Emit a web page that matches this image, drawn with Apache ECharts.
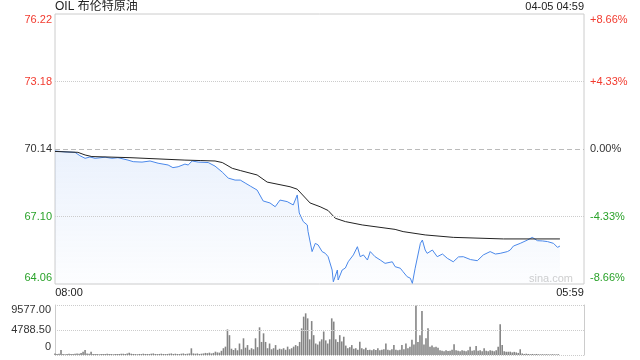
<!DOCTYPE html>
<html><head><meta charset="utf-8">
<script src="https://cdn.jsdelivr.net/npm/echarts@6/dist/echarts.min.js"></script>
<style>html,body{margin:0;padding:0;background:#fff}#c{width:640px;height:360px}</style>
</head><body><div id="c"></div>
<script>
const titleText = 'OIL 布伦特原油';
const dateText = '04-05 04:59';
const watermarkText = 'sina.com';
const timeTicks = [0, 1319];
const timeLabels = ['08:00', '05:59'];
const prevClose = 70.14;
const priceTicks = [64.06, 67.10, 70.14, 73.18, 76.22];
const priceLabels = ['64.06', '67.10', '70.14', '73.18', '76.22'];
const pctLabels = ['-8.66%', '-4.33%', '0.00%', '+4.33%', '+8.66%'];
const volTicks = [0, 4788.5, 9577];
const volLabels = ['0', '4788.50', '9577.00'];

const priceMinutes = [0,25,50,62,75,87,100,125,142,157,182,195,217,237,257,282,294,307,324,332,342,357,382,399,417,432,449,462,474,487,504,519,536,549,561,579,594,604,609,619,629,631,641,649,656,666,674,681,691,694,704,706,716,724,731,744,754,761,769,779,786,798,811,823,841,848,861,868,878,886,891,898,911,916,923,928,941,953,966,978,993,1006,1018,1036,1053,1068,1085,1098,1110,1128,1135,1143,1160,1178,1190,1203,1215,1228,1243,1253,1259];
const prices = [70.05,70.01,69.99,69.84,69.72,69.78,69.72,69.77,69.72,69.75,69.64,69.57,69.55,69.60,69.50,69.42,69.30,69.34,69.46,69.42,69.60,69.55,69.53,69.37,69.10,68.83,68.74,68.74,68.61,68.47,68.29,67.80,67.71,67.54,67.84,67.77,67.62,68.07,67.26,66.87,66.72,66.42,65.52,65.89,65.82,65.52,65.44,65.29,64.69,64.16,64.69,64.24,64.69,64.78,65.06,65.37,65.74,65.29,65.37,65.14,65.52,65.29,65.14,64.99,65.06,64.84,64.77,64.61,64.39,64.32,64.09,64.77,65.89,66.04,65.59,65.44,65.59,65.29,65.41,65.22,65.06,65.28,65.29,65.16,65.11,65.37,65.52,65.41,65.44,65.52,65.59,65.77,65.89,66.04,66.16,66.01,66.00,65.97,65.89,65.71,65.77];

const avgMinutes = [0,57,75,92,187,324,362,399,417,424,442,462,504,529,586,604,636,661,681,699,724,766,848,868,923,993,1118,1259];
const avgPrices = [70.03,69.99,69.87,69.80,69.75,69.64,69.62,69.60,69.53,69.46,69.27,69.17,68.97,68.65,68.44,68.33,67.71,67.54,67.37,67.02,66.87,66.72,66.52,66.42,66.27,66.16,66.09,66.09];

const volStepMinutes = 5;
const volumes = [
300,200,250,960,200,150,200,250,180,200,220,300,250,400,600,960,300,250,640,200,
180,200,150,200,180,200,250,200,180,150,200,180,200,220,250,200,300,450,250,200,
180,150,200,180,250,200,200,180,250,300,200,180,200,250,200,180,200,250,300,200,
250,200,180,250,300,200,250,300,1280,300,250,300,200,250,300,400,350,450,300,400,
640,500,450,
800,1300,1600,4900,3800,1200,960,1300,900,2200,1100,3200,1400,1900,1000,1300,1100,3200,1500,5300,
2500,4150,2500,1300,2200,1100,1300,1900,1000,1200,1100,1300,1000,1600,1100,1300,1600,1900,1700,2500,
5100,7340,7980,7020,3000,6500,3800,2200,2000,2600,3000,4500,2800,2200,3000,7020,6400,3000,2500,3800,
2600,3500,1800,1300,1500,1900,1200,1300,1000,2550,1300,1100,1400,960,1000,900,1100,960,1300,900,
1000,1100,2200,1000,900,1100,1900,1000,900,1000,1900,1100,2200,1300,1600,2900,2000,9500,2500,3800,
8430,2000,3200,5100,1600,1800,1500,1600,1400,900,800,700,900,770,800,1000,2050,900,800,700,
900,800,700,900,1600,800,900,1700,800,900,700,1280,800,700,900,800,700,900,1600,5870,
1900,700,640,600,640,500,600,500,400,1100,300,200,250,200,150,200,150,200,150,130,
150,130,150,130,120,150,130,120,150
];

const RED = '#f23a2e', GREEN = '#2aa22a', DARK = '#333';
const FONT = '"Liberation Sans", Arial, "Noto Sans CJK SC", sans-serif';

function nearestIndex(arr, v) {
  let best = 0;
  for (let i = 1; i < arr.length; i++) if (Math.abs(arr[i] - v) < Math.abs(arr[best] - v)) best = i;
  return best;
}
function priceKey(i) {
  const v = priceTicks[i];
  let c = v > prevClose + 1e-9 ? 'r' : (v < prevClose - 1e-9 ? 'g' : 'k');
  if (i === priceTicks.length - 1) c += 't';
  if (i === 0) c += 'b';
  return c;
}
const richBase = { fontSize: 11, fontFamily: FONT };
const priceRich = {
  r: { ...richBase, color: RED }, rt: { ...richBase, color: RED, padding: [12, 0, 0, 0] },
  g: { ...richBase, color: GREEN }, gb: { ...richBase, color: GREEN, padding: [0, 0, 12, 0] },
  k: { ...richBase, color: DARK }
};

const chart = echarts.init(document.getElementById('c'), null, { renderer: 'canvas' });
chart.setOption({
  animation: false,
  textStyle: { fontFamily: FONT },
  title: [
    { text: titleText, left: 55, top: 1, padding: 0, textStyle: { fontSize: 12, fontWeight: 'normal', color: '#222', fontFamily: FONT } },
    { text: dateText, right: 56, top: 1, padding: 0, textStyle: { fontSize: 11, fontWeight: 'normal', color: '#222', fontFamily: FONT } }
  ],
  graphic: [
    { type: 'text', right: 67, top: 273, silent: true, style: { text: watermarkText, fill: '#cfcfcf', font: '11px ' + FONT } }
  ],
  grid: [
    { left: 55, right: 56, top: 14, height: 270, show: true, borderColor: '#cccccc', borderWidth: 1, backgroundColor: 'transparent' },
    { left: 55, right: 56, top: 305, height: 50 }
  ],
  xAxis: [
    {
      type: 'value', gridIndex: 0, min: 0, max: 1319,
      axisLine: { show: false }, axisTick: { show: false }, splitLine: { show: false },
      axisLabel: {
        customValues: timeTicks, margin: 3,
        formatter: (v) => {
          const i = nearestIndex(timeTicks, v);
          return i === 0 ? '{l|' + timeLabels[i] + '}' : '{rr|' + timeLabels[i] + '}';
        },
        rich: {
          l: { ...richBase, color: '#222', padding: [0, 0, 0, 28] },
          rr: { ...richBase, color: '#222', padding: [0, 28, 0, 0] }
        }
      }
    },
    {
      type: 'value', gridIndex: 1, min: 0, max: 1319,
      axisLine: { show: false }, axisTick: { show: false }, splitLine: { show: false }, axisLabel: { show: false }
    }
  ],
  yAxis: [
    {
      type: 'value', gridIndex: 0, min: priceTicks[0], max: priceTicks[priceTicks.length - 1], position: 'left',
      axisLine: { show: false }, axisTick: { show: false }, splitLine: { show: false },
      axisLabel: {
        customValues: priceTicks, margin: 3,
        formatter: (v) => { const i = nearestIndex(priceTicks, v); return '{' + priceKey(i) + '|' + priceLabels[i] + '}'; },
        rich: priceRich
      }
    },
    {
      type: 'value', gridIndex: 0, min: priceTicks[0], max: priceTicks[priceTicks.length - 1], position: 'right',
      axisLine: { show: false }, axisTick: { show: false }, splitLine: { show: false },
      axisLabel: {
        customValues: priceTicks, margin: 6,
        formatter: (v) => { const i = nearestIndex(priceTicks, v); return '{' + priceKey(i) + '|' + pctLabels[i] + '}'; },
        rich: priceRich
      }
    },
    {
      type: 'value', gridIndex: 1, min: 0, max: volTicks[volTicks.length - 1], position: 'left',
      axisLine: { show: true, lineStyle: { color: '#cccccc' } }, axisTick: { show: false }, splitLine: { show: false },
      axisLabel: {
        customValues: volTicks, margin: 4,
        formatter: (v) => {
          const i = nearestIndex(volTicks, v);
          return '{' + (i === 0 ? 'b' : (i === volTicks.length - 1 ? 't' : 'm')) + '|' + volLabels[i] + '}';
        },
        rich: {
          t: { ...richBase, color: DARK, padding: [10, 0, 0, 0] },
          m: { ...richBase, color: DARK },
          b: { ...richBase, color: DARK, padding: [0, 0, 16, 0] }
        }
      }
    },
    {
      type: 'value', gridIndex: 1, min: 0, max: volTicks[volTicks.length - 1], position: 'right',
      axisLine: { show: true, lineStyle: { color: '#cccccc' } }, axisTick: { show: false }, splitLine: { show: false }, axisLabel: { show: false }
    }
  ],
  series: [
    {
      type: 'line', xAxisIndex: 0, yAxisIndex: 0, showSymbol: false, symbol: 'none',
      data: priceMinutes.map((m, i) => [m, prices[i]]),
      lineStyle: { color: '#4a88ea', width: 1 },
      itemStyle: { color: '#4a88ea' },
      areaStyle: {
        origin: 'start',
        color: new echarts.graphic.LinearGradient(0, 150, 0, 284, [
          { offset: 0, color: 'rgba(74,136,234,0.16)' },
          { offset: 1, color: 'rgba(74,136,234,0.02)' }
        ], true)
      },
      markLine: {
        silent: true, symbol: ['none', 'none'], label: { show: false }, animation: false,
        data: [
          { yAxis: priceTicks[3], lineStyle: { color: '#cccccc', type: 'dotted', width: 1 } },
          { yAxis: priceTicks[2], lineStyle: { color: '#bbbbbb', type: [5, 3], width: 1 } },
          { yAxis: priceTicks[1], lineStyle: { color: '#cccccc', type: 'dotted', width: 1 } }
        ]
      },
      z: 3
    },
    {
      type: 'line', xAxisIndex: 0, yAxisIndex: 0, showSymbol: false, symbol: 'none',
      data: avgMinutes.map((m, i) => [m, avgPrices[i]]),
      lineStyle: { color: '#222222', width: 1 },
      itemStyle: { color: '#222222' },
      z: 4
    },
    {
      type: 'bar', xAxisIndex: 1, yAxisIndex: 2, barWidth: 1.6,
      data: volumes.map((v, i) => [i * volStepMinutes, v]),
      itemStyle: { color: '#858585' },
      markLine: {
        silent: true, symbol: ['none', 'none'], label: { show: false }, animation: false,
        lineStyle: { color: '#cccccc', type: 'dotted', width: 1 },
        data: volTicks.map(v => ({ yAxis: v }))
      }
    }
  ]
});
</script>
</body></html>
